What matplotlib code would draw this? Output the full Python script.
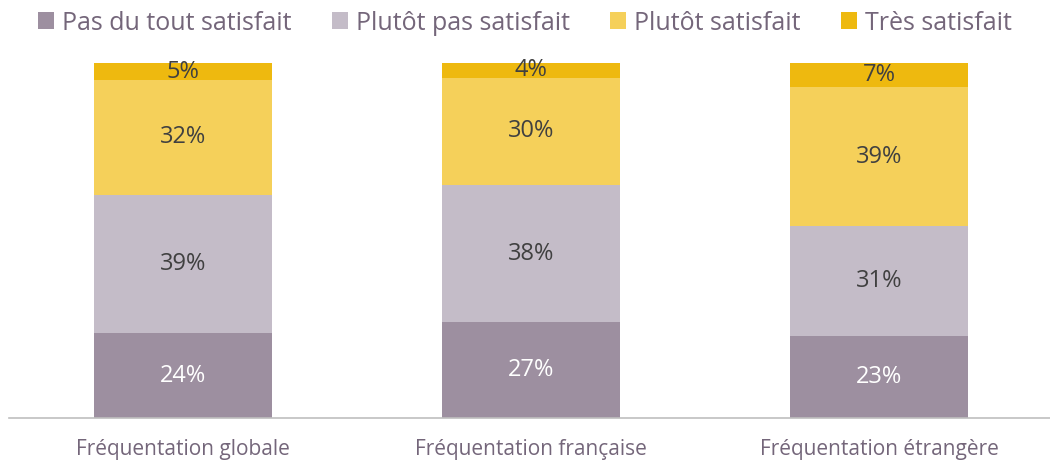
import numpy as np
import matplotlib
matplotlib.use('Agg')
import matplotlib.pyplot as plt

categories = ['Fréquentation globale', 'Fréquentation française', 'Fréquentation étrangère']
series_names = ['Pas du tout satisfait', 'Plutôt pas satisfait', 'Plutôt satisfait', 'Très satisfait']
pas_du_tout = [24.0, 27.2, 23.3]
plutot_pas = [38.9, 38.4, 30.8]
plutot = [32.4, 30.4, 39.2]
tres = [4.7, 4.0, 6.7]

colors = ['#9D8FA0', '#C4BCC8', '#F5D05A', '#EEB90F']
label_colors = ['white', '#404040', '#404040', '#404040']
text_gray = '#74667A'

plt.rcParams['font.family'] = ['Open Sans', 'DejaVu Sans']

fig = plt.figure(figsize=(10.5, 4.63), dpi=100)
ax = fig.add_axes([9 / 1050, 44.7 / 463, 1044 / 1050, 355 / 463])

x = np.arange(len(categories))
bottom = np.zeros(len(categories))
for name, vals, c, lc in zip(series_names, [pas_du_tout, plutot_pas, plutot, tres], colors, label_colors):
    vals = np.array(vals)
    ax.bar(x, vals, width=0.514, bottom=bottom, color=c, label=name)
    for xi, b, v in zip(x, bottom, vals):
        ax.text(xi, b + v / 2, f'{round(v)}%', ha='center', va='center',
                fontsize=17, color=lc)
    bottom += vals

ax.set_xlim(-0.5, 2.5)
ax.set_ylim(0, 100)
ax.set_xticks(x)
ax.set_xticklabels(categories, fontsize=15, color=text_gray)
ax.tick_params(axis='x', length=0, pad=15)
ax.set_yticks([])
for s in ['top', 'left', 'right']:
    ax.spines[s].set_visible(False)
ax.spines['bottom'].set_color('#BFBFBF')
ax.spines['bottom'].set_linewidth(1.2)

leg = fig.legend(loc='center', bbox_to_anchor=(0.5, 1 - 23 / 463), ncol=4, frameon=False,
                 fontsize=18, handlelength=0.65, handleheight=0.65, handletextpad=0.32,
                 columnspacing=1.6, borderaxespad=0)
for t in leg.get_texts():
    t.set_color(text_gray)

fig.savefig('out.png', dpi=100)
